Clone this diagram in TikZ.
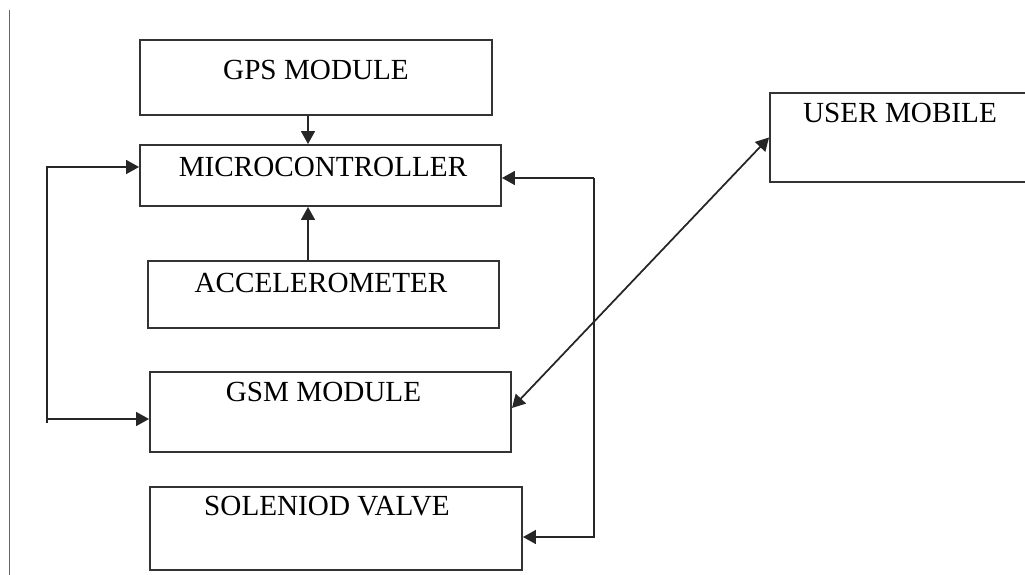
\documentclass[tikz,border=0pt]{standalone}
\usepackage{fontspec}
\setmainfont{Liberation Serif}
\usepackage{tikz}
\usetikzlibrary{positioning,arrows.meta}

\begin{document}
\begin{tikzpicture}[
    blockbox/.style={rectangle, draw=black!80, line width=1.1pt, inner sep=0pt},
    blocktext/.style={font=\fontsize{16.6}{20}\selectfont, inner sep=0pt},
    arrow/.style={-{Triangle[length=2.6mm, width=2.8mm]}, line width=1pt, black!85},
    doublearrow/.style={{Triangle[length=2.6mm, width=2.8mm]}-{Triangle[length=2.6mm, width=2.8mm]}, line width=1pt, black!85},
    pageedge/.style={line width=0.5pt, black!60},
]

% === FRAME ===
\clip (0,0) rectangle (20.5,-11.5);
\useasboundingbox (0,0) rectangle (20.5,-11.5);

% --- PAGE EDGE ---
\coordinate (edgetop) at (0.18,-0.2);
\coordinate (edgebot) at (0.18,-11.5);
\draw[pageedge] (edgetop) -- (edgebot);

% --- BLOCKS ---
\node[blockbox, minimum width=7.04cm, minimum height=1.5cm]  (gps)  at (6.32, -1.55)  {};
\node[blockbox, minimum width=7.22cm, minimum height=1.22cm] (mc)   at (6.41, -3.51)  {};
\node[blockbox, minimum width=7.02cm, minimum height=1.34cm] (acc)  at (6.47, -5.89)  {};
\node[blockbox, minimum width=7.22cm, minimum height=1.6cm]  (gsm)  at (6.61, -8.24)  {};
\node[blockbox, minimum width=7.44cm, minimum height=1.66cm] (sol)  at (6.72, -10.57) {};
\node[blockbox, minimum width=5.3cm,  minimum height=1.78cm] (user) at (18.05, -2.75) {};

% --- BLOCK LABELS ---
\node[blocktext] (gpstext)  at ([yshift=-0.62cm]gps.north)  {GPS MODULE};
\node[blocktext] (mctext)   at ([yshift=-0.45cm, xshift=0.05cm]mc.north) {MICROCONTROLLER};
\node[blocktext] (acctext)  at ([yshift=-0.45cm, xshift=-0.05cm]acc.north) {ACCELEROMETER};
\node[blocktext] (gsmtext)  at ([yshift=-0.42cm, xshift=-0.14cm]gsm.north) {GSM MODULE};
\node[blocktext] (soltext)  at ([yshift=-0.4cm, xshift=-0.18cm]sol.north) {SOLENIOD VALVE};
\node[blocktext] (usertext) at ([yshift=-0.42cm, xshift=-0.05cm]user.north) {USER MOBILE};

% --- LOOP CORNERS ---
\coordinate (leftloop)  at (0.94, -8.46);
\coordinate (rightloop) at (11.88, -3.56);

% =======================================================================
% ARROWS
% =======================================================================

% --- GPS and accelerometer into the microcontroller ---
\draw[arrow] ([xshift=-0.16cm]gps.south) -- ([xshift=-0.16cm]gps.south |- mc.north);
\draw[arrow] ([xshift=-0.31cm]acc.north) -- ([xshift=-0.31cm]acc.north |- mc.south);

% --- left loop: microcontroller / GSM ---
\draw[arrow] (leftloop) |- ([yshift=0.17cm]mc.west);
\draw[arrow] ([yshift=-0.14cm]gsm.west -| leftloop) -- ([yshift=-0.14cm]gsm.west);

% --- right loop: microcontroller / solenoid valve ---
\draw[arrow] (rightloop) -- (rightloop -| mc.east);
\draw[arrow] (rightloop) |- ([yshift=-0.17cm]sol.east);

% --- GSM <-> user mobile ---
\draw[doublearrow] ([yshift=0.08cm]gsm.east) -- (user.west);

\end{tikzpicture}
\end{document}
